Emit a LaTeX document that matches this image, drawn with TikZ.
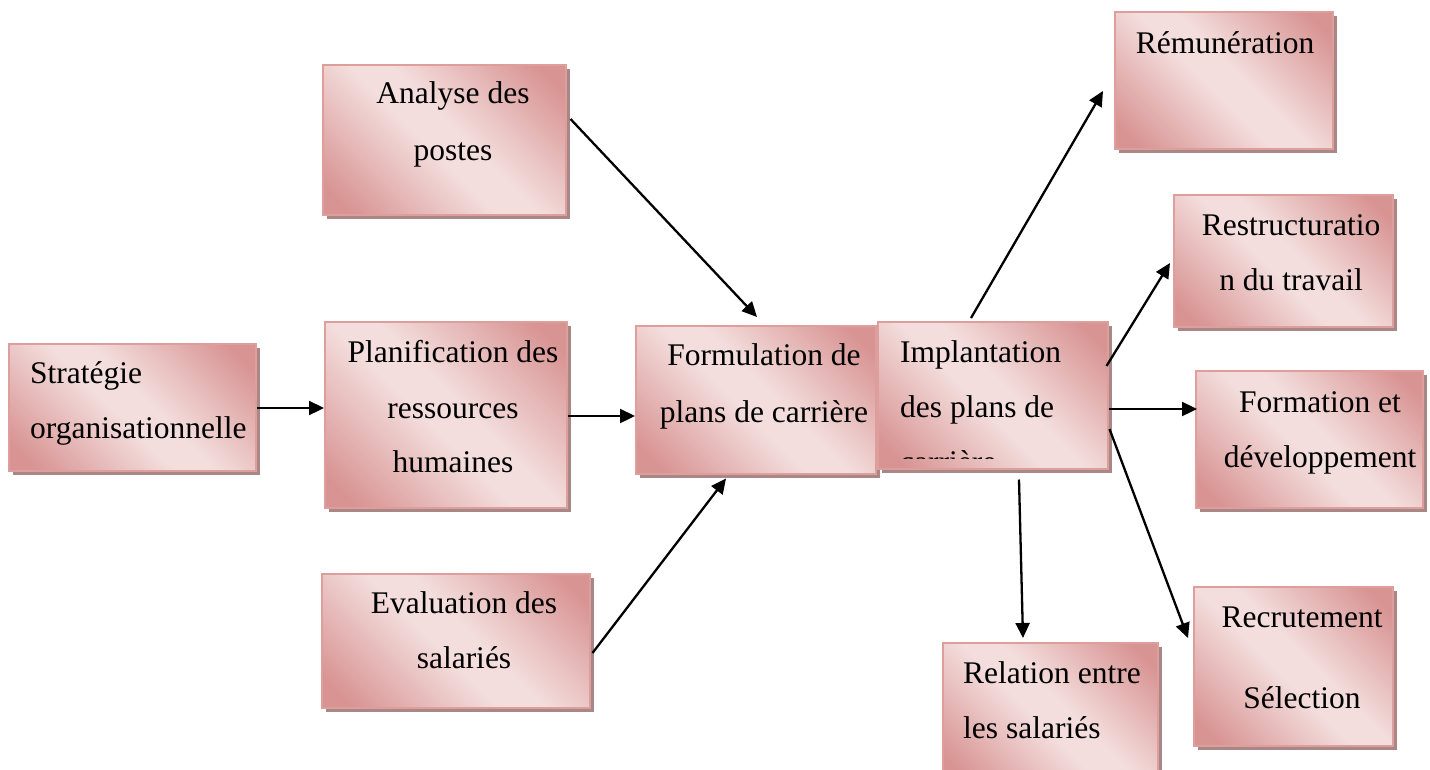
\documentclass[tikz,border=0pt]{standalone}
\usepackage{fontspec}
\setmainfont{Liberation Serif}
\usetikzlibrary{arrows.meta,shadows,calc}

\definecolor{pkdark}{RGB}{216,148,147}
\definecolor{pklight}{RGB}{243,222,221}
\definecolor{pkedge}{RGB}{222,158,156}
\definecolor{pkshadow}{RGB}{170,135,135}

% diagonal fill: dark corners, light band through the middle
\pgfdeclareverticalshading{cardshade}{100bp}{%
  color(0bp)=(pkdark); color(20bp)=(pkdark); color(46bp)=(pklight);
  color(54bp)=(pklight); color(80bp)=(pkdark); color(100bp)=(pkdark)}

\tikzset{
  card/.style={rectangle, anchor=north west, inner sep=0pt, draw=pkedge, line width=1.5pt,
    shading=cardshade, shading angle=-45,
    general shadow={fill=pkshadow, shadow xshift=4pt, shadow yshift=-4pt}},
  txt/.style={anchor=base, inner sep=0pt, font=\fontsize{31.5}{55}\selectfont},
  txtl/.style={txt, anchor=base west},
  arr/.style={-{Triangle[length=15pt,width=14pt]}, line width=2.3pt, black},
}

\begin{document}
\begin{tikzpicture}[x=1pt,y=-1pt]
\useasboundingbox (0,0) rectangle (1430,769);
\clip (0,0) rectangle (1430,769);

% boxes
\node[card, minimum width=247pt, minimum height=127pt] (strat)   at (8,343)    {};
\node[card, minimum width=243pt, minimum height=150pt] (analyse) at (322,64)   {};
\node[card, minimum width=242pt, minimum height=186pt] (plan)    at (324,321)  {};
\node[card, minimum width=268pt, minimum height=134pt] (eval)    at (321,573)  {};
\node[card, minimum width=240pt, minimum height=148pt] (form)    at (635,325)  {};
\node[card, minimum width=230pt, minimum height=147pt] (impl)    at (877,321)  {};
\node[card, minimum width=218pt, minimum height=137pt] (remu)    at (1114,11)  {};
\node[card, minimum width=219pt, minimum height=132pt] (restr)   at (1173,194) {};
\node[card, minimum width=227pt, minimum height=137pt] (formd)   at (1195,370) {};
\node[card, minimum width=199pt, minimum height=159pt] (recr)    at (1193,586) {};
\node[card, minimum width=215pt, minimum height=140pt] (rel)     at (942,642)  {};

% labels
\node[txtl] (s1) at (30,383) {Stratégie};
\node[txtl] (s2) at (30,438) {organisationnelle};

\node[txt] (a1) at (453,103) {Analyse des};
\node[txt] (a2) at (453,160) {postes};

\node[txt] (p1) at (453,362) {Planification des};
\node[txt] (p2) at (453,418) {ressources};
\node[txt] (p3) at (453,472) {humaines};

\node[txt] (e1) at (464,613) {Evaluation des};
\node[txt] (e2) at (464,668) {salariés};

\node[txt] (f1) at (764,365) {Formulation de};
\node[txt] (f2) at (764,422) {plans de carrière};

\node[txtl] (i1) at (900,362) {Implantation};
\node[txtl] (i2) at (900,417) {des plans de};
\begin{scope}
  \clip (impl.north west) rectangle ([yshift=11.5pt]impl.south east);
  \node[txtl] (i3) at (900,472) {carrière};
\end{scope}

\node[txt] (r1) at (1225,53) {Rémunération};

\node[txt] (t1) at (1291,235) {Restructuratio};
\node[txt] (t2) at (1291,290) {n du travail};

\node[txt] (d1) at (1320,412) {Formation et};
\node[txt] (d2) at (1320,467) {développement};

\node[txt] (c1) at (1302,627) {Recrutement};
\node[txt] (c2) at (1302,708) {Sélection};

\node[txtl] (l1) at (963,683) {Relation entre};
\node[txtl] (l2) at (963,738) {les salariés};

% connectors
\draw[arr] ([shift={(0,65)}]strat.north east) -- ([shift={(0,87)}]plan.north west);
\draw[arr] ([shift={(0,95)}]plan.north east) -- ([shift={(0,91)}]form.north west);
\draw[arr] ([shift={(4,55)}]analyse.north east) -- ([shift={(122,-8)}]form.north west);
\draw[arr] ([shift={(2,80)}]eval.north east) -- ([shift={(91,4)}]form.south west);

\draw[arr] ([shift={(94,-3)}]impl.north west) -- ([shift={(-11,80)}]remu.north west);
\draw[arr] ([shift={(-2,45)}]impl.north east) -- ([shift={(-3,69)}]restr.north west);
\draw[arr] ([shift={(0,88)}]impl.north east) -- ([shift={(2,39)}]formd.north west);
\draw[arr] ([shift={(1,108)}]impl.north east) -- ([shift={(-5,52)}]recr.north west);
\draw[arr] ([shift={(142,10)}]impl.south west) -- ([shift={(81,-4)}]rel.north west);
\end{tikzpicture}
\end{document}
